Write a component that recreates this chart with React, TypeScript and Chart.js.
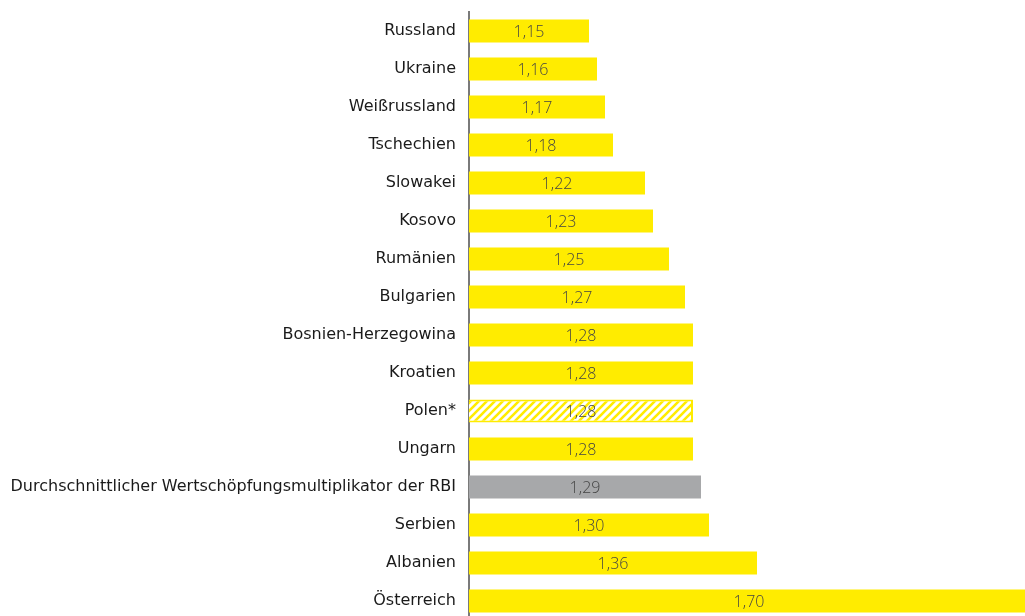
import React, { useEffect, useRef } from "react";
import { Chart, registerables } from "chart.js";

Chart.register(...registerables);

const categories = [
  "Russland",
  "Ukraine",
  "Weißrussland",
  "Tschechien",
  "Slowakei",
  "Kosovo",
  "Rumänien",
  "Bulgarien",
  "Bosnien-Herzegowina",
  "Kroatien",
  "Polen*",
  "Ungarn",
  "Durchschnittlicher Wertschöpfungsmultiplikator der RBI",
  "Serbien",
  "Albanien",
  "Österreich",
];

const values = [1.15, 1.16, 1.17, 1.18, 1.22, 1.23, 1.25, 1.27, 1.28, 1.28, 1.28, 1.28, 1.29, 1.3, 1.36, 1.7];

const hatchedCategory = "Polen*";
const averageCategory = "Durchschnittlicher Wertschöpfungsmultiplikator der RBI";

const YELLOW = "#FFEC00";
const GREY = "#A7A8AA";

function makeHatch(): CanvasPattern | string {
  const c = document.createElement("canvas");
  c.width = 8;
  c.height = 8;
  const ctx = c.getContext("2d");
  if (!ctx) return YELLOW;
  ctx.fillStyle = "#ffffff";
  ctx.fillRect(0, 0, 8, 8);
  ctx.strokeStyle = YELLOW;
  ctx.lineWidth = 2.6;
  ctx.beginPath();
  ctx.moveTo(-2, 10);
  ctx.lineTo(10, -2);
  ctx.moveTo(-6, 6);
  ctx.lineTo(6, -6);
  ctx.moveTo(2, 14);
  ctx.lineTo(14, 2);
  ctx.stroke();
  const p = ctx.createPattern(c, "repeat");
  return p || YELLOW;
}

const valueLabels = {
  id: "valueLabels",
  afterDatasetsDraw(chart: any) {
    const ctx = chart.ctx;
    const meta = chart.getDatasetMeta(0);
    const left = chart.chartArea.left;
    ctx.save();
    ctx.font = "300 16px 'Open Sans', sans-serif";
    ctx.fillStyle = "#444444";
    ctx.textAlign = "center";
    ctx.textBaseline = "middle";
    meta.data.forEach((bar: any, i: number) => {
      const v = values[i];
      const cx = (bar.x + left) / 2;
      ctx.fillText(v.toFixed(2).replace(".", ","), cx, bar.y + 1);
    });
    ctx.restore();
  },
};

export default function App() {
  const ref = useRef<HTMLCanvasElement>(null);

  useEffect(() => {
    document.body.style.margin = "0";
    document.body.style.overflow = "hidden";
    if (!ref.current) return;
    const hatch = makeHatch();
    const bg = categories.map((c) =>
      c === hatchedCategory ? hatch : c === averageCategory ? GREY : YELLOW
    );
    const chart = new Chart(ref.current, {
      type: "bar",
      data: {
        labels: categories,
        datasets: [
          {
            data: values,
            backgroundColor: bg as any,
            borderColor: categories.map((c) => (c === hatchedCategory ? YELLOW : "rgba(0,0,0,0)")),
            borderWidth: categories.map((c) => (c === hatchedCategory ? 2 : 0)),
            borderSkipped: false,
            categoryPercentage: 1,
            barPercentage: 0.61,
          },
        ],
      },
      options: {
        indexAxis: "y",
        animation: false,
        responsive: false,
        maintainAspectRatio: false,
        layout: { padding: { top: 12, bottom: 0, left: 0, right: 0 } },
        plugins: {
          legend: { display: false },
          tooltip: { enabled: false },
        },
        scales: {
          x: {
            display: false,
            min: 1.0,
            max: 1.695,
          },
          y: {
            afterFit(scale: any) {
              scale.width = 469;
              scale.paddingTop = 0;
              scale.paddingBottom = 0;
            },
            grid: { display: false, drawTicks: false },
            border: { display: true, color: "#7a7a7a", width: 2 },
            ticks: {
              padding: 13,
              color: "#1a1a1a",
              font: { family: "'DejaVu Sans', sans-serif", size: 16, weight: "normal" as any },
            },
          },
        },
      },
      plugins: [valueLabels],
    });
    return () => chart.destroy();
  }, []);

  return (
    <div style={{ position: "fixed", left: 0, top: 0, width: 1025, height: 620 }}>
      <canvas ref={ref} width={1025} height={620} style={{ width: 1025, height: 620 }} />
    </div>
  );
}
